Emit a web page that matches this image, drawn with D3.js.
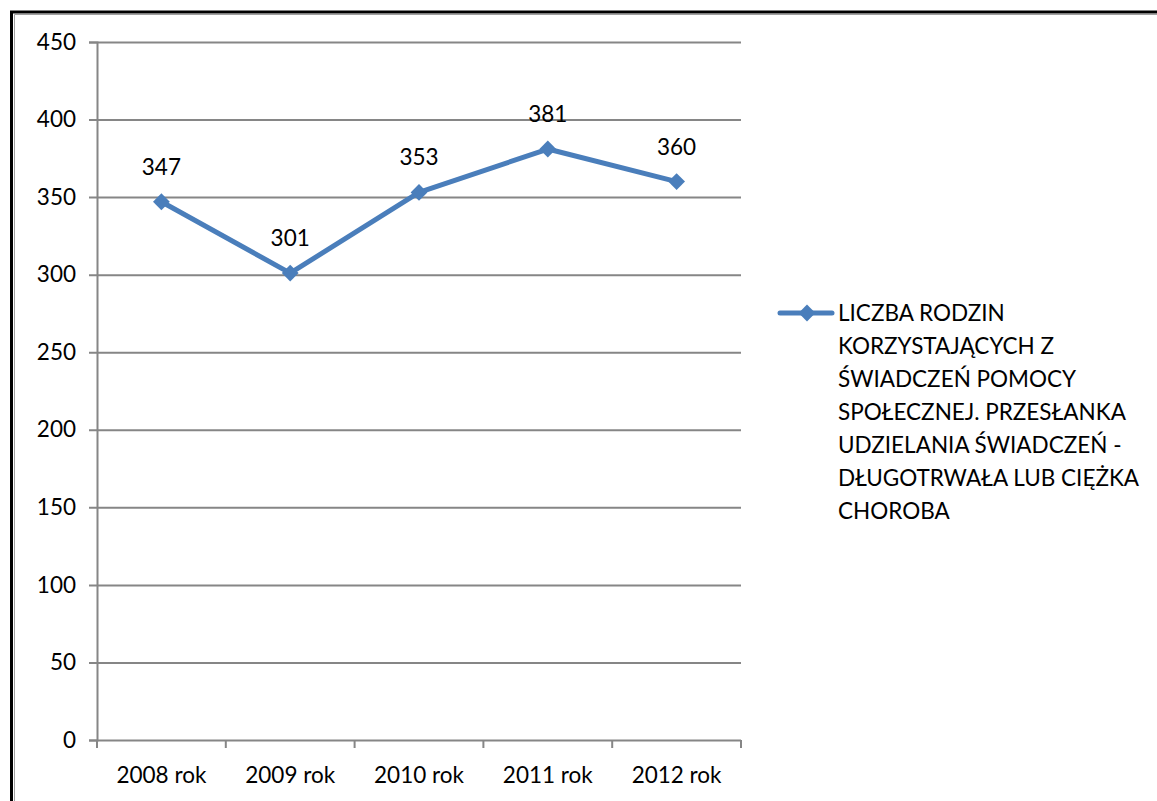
<!DOCTYPE html>
<html>
<head>
<meta charset="utf-8">
<script src="https://cdn.jsdelivr.net/npm/d3@7"></script>
<style>
  body { margin: 0; background: #fff; }
  svg { display: block; font-family: Lato, "Open Sans", sans-serif; }
</style>
</head>
<body>
<div id="chart"></div>
<script>
// data
const YEARS = ["2008 rok", "2009 rok", "2010 rok", "2011 rok", "2012 rok"];
const VALUES = [347, 301, 353, 381, 360];
const Y_TICKS = [0, 50, 100, 150, 200, 250, 300, 350, 400, 450];
const LEGEND_LINES = [
  "LICZBA RODZIN",
  "KORZYSTAJĄCYCH Z",
  "ŚWIADCZEŃ POMOCY",
  "SPOŁECZNEJ. PRZESŁANKA",
  "UDZIELANIA ŚWIADCZEŃ -",
  "DŁUGOTRWAŁA LUB CIĘŻKA",
  "CHOROBA"
];

const WIDTH = 1157;
const HEIGHT = 801;
const LINE_COLOR = "#4a7ebb";
const GRID_COLOR = "#868686";
const FONT_SIZE = 22.5;

const PLOT = {left: 97, right: 741, top: 42, bottom: 740};

const svg = d3.select("#chart").append("svg")
  .attr("width", WIDTH)
  .attr("height", HEIGHT);

// frame (only left and top edges show in the picture)
svg.append("path")
  .attr("d", `M11.5,${HEIGHT} V12 H${WIDTH}`)
  .attr("fill", "none")
  .attr("stroke", "#000")
  .attr("stroke-width", 3);
svg.append("path")
  .attr("d", `M14.5,${HEIGHT} V14.5 H${WIDTH}`)
  .attr("fill", "none")
  .attr("stroke", "#a0a0a0")
  .attr("stroke-width", 1);

const x = d3.scaleBand()
  .domain(YEARS)
  .range([PLOT.left, PLOT.right]);

const y = d3.scaleLinear()
  .domain([0, 450])
  .range([PLOT.bottom, PLOT.top]);

// horizontal gridlines + y ticks
const yAxis = svg.append("g")
  .attr("transform", `translate(${PLOT.left},0)`)
  .call(d3.axisLeft(y).tickValues(Y_TICKS).tickSize(8).tickPadding(13));
yAxis.select(".domain").attr("stroke", GRID_COLOR).attr("stroke-width", 2);
yAxis.selectAll(".tick line")
  .attr("x2", PLOT.right - PLOT.left)
  .attr("x1", -8)
  .attr("stroke", GRID_COLOR)
  .attr("stroke-width", 2);
yAxis.selectAll(".tick text")
  .attr("font-size", FONT_SIZE)
  .attr("fill", "#000")
  .attr("font-family", "Lato, sans-serif");

// x axis with ticks between categories
const xAxis = svg.append("g")
  .attr("transform", `translate(0,${PLOT.bottom})`);
xAxis.selectAll("line.sep")
  .data(d3.range(YEARS.length + 1))
  .join("line")
  .attr("class", "sep")
  .attr("x1", i => PLOT.left + i * x.step())
  .attr("x2", i => PLOT.left + i * x.step())
  .attr("y1", 0)
  .attr("y2", 8)
  .attr("stroke", GRID_COLOR)
  .attr("stroke-width", 2);
xAxis.selectAll("text")
  .data(YEARS)
  .join("text")
  .attr("x", d => x(d) + x.bandwidth() / 2)
  .attr("y", 43)
  .attr("text-anchor", "middle")
  .attr("font-size", FONT_SIZE)
  .text(d => d);

// series line
const points = YEARS.map((d, i) => ({year: d, value: VALUES[i]}));
const line = d3.line()
  .x(d => x(d.year) + x.bandwidth() / 2)
  .y(d => y(d.value));

svg.append("path")
  .datum(points)
  .attr("d", line)
  .attr("fill", "none")
  .attr("stroke", LINE_COLOR)
  .attr("stroke-width", 5)
  .attr("stroke-linejoin", "round");

const diamond = d3.symbol().type(d3.symbolDiamond2).size(180);
svg.selectAll("path.marker")
  .data(points)
  .join("path")
  .attr("class", "marker")
  .attr("d", diamond)
  .attr("transform", d => `translate(${x(d.year) + x.bandwidth() / 2},${y(d.value)})`)
  .attr("fill", LINE_COLOR);

// data labels
svg.selectAll("text.label")
  .data(points)
  .join("text")
  .attr("class", "label")
  .attr("x", d => x(d.year) + x.bandwidth() / 2)
  .attr("y", d => y(d.value) - 27)
  .attr("text-anchor", "middle")
  .attr("font-size", FONT_SIZE)
  .text(d => d.value);

// legend
const legend = svg.append("g").attr("transform", "translate(780,313)");
legend.append("line")
  .attr("x1", 0).attr("x2", 52)
  .attr("stroke", LINE_COLOR)
  .attr("stroke-width", 5)
  .attr("stroke-linecap", "round");
legend.append("path")
  .attr("d", diamond)
  .attr("transform", "translate(27,0)")
  .attr("fill", LINE_COLOR);
legend.selectAll("text")
  .data(LEGEND_LINES)
  .join("text")
  .attr("x", 58)
  .attr("y", (d, i) => 8 + i * 33)
  .attr("font-size", FONT_SIZE)
  .text(d => d);
</script>
</body>
</html>
